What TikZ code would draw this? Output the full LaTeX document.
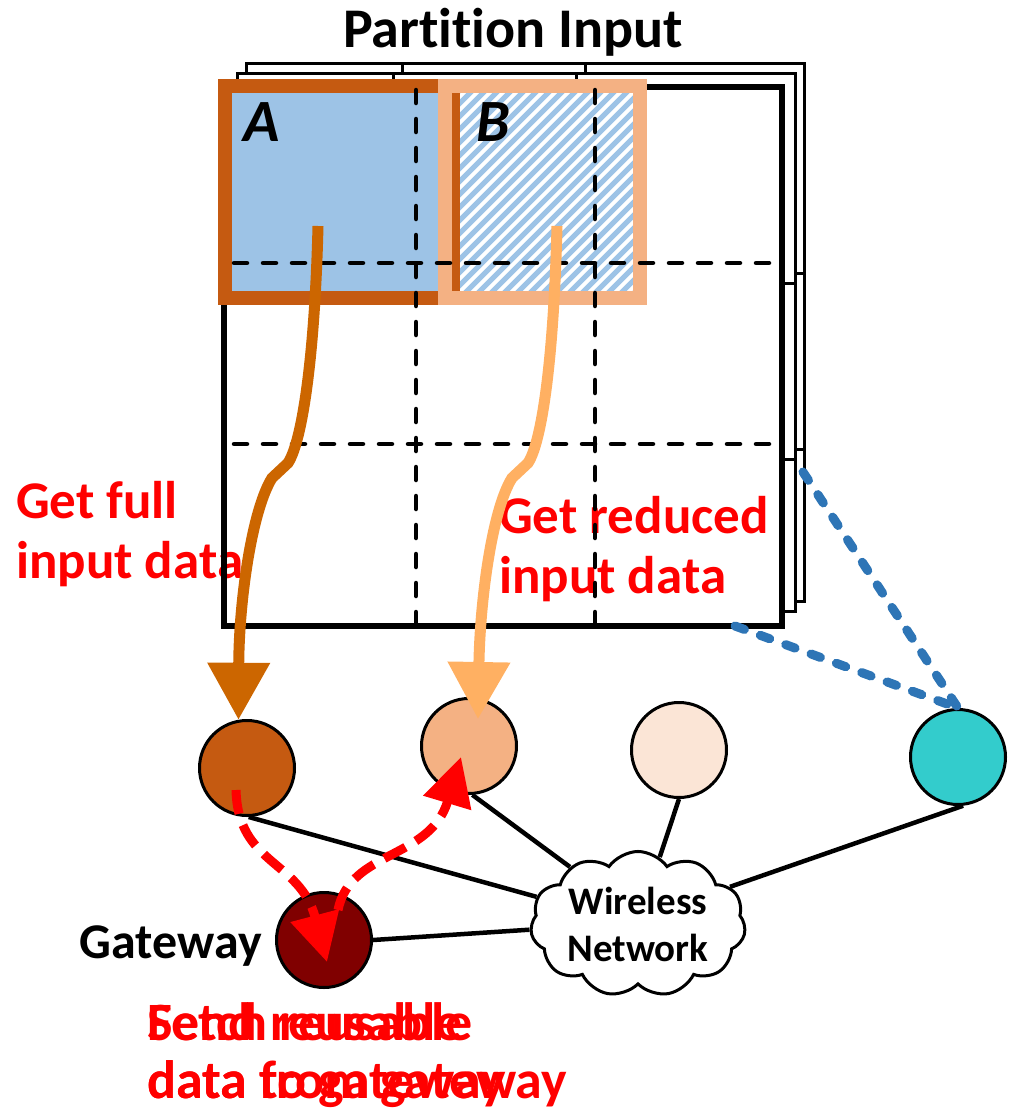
\documentclass[tikz,border=0pt]{standalone}
\usepackage{fontspec}
\setmainfont[Ligatures=NoCommon]{Carlito}
\usepackage{tikz}
\usetikzlibrary{calc,shapes.symbols,arrows.meta}
\usetikzlibrary{positioning}

\definecolor{cellblue}{RGB}{157,195,230}
\definecolor{fullorange}{RGB}{197,90,17}
\definecolor{reducedorange}{RGB}{244,177,131}
\definecolor{paleorange}{RGB}{251,229,214}
\definecolor{devcyan}{RGB}{51,204,204}
\definecolor{gatewayred}{RGB}{128,0,0}
\definecolor{fullarrow}{RGB}{204,102,0}
\definecolor{reducedarrow}{RGB}{255,176,98}
\definecolor{linkblue}{RGB}{46,117,182}

\begin{document}
\begin{tikzpicture}[x=1pt, y=-1pt,
    device/.style={circle, draw=black, line width=3pt, minimum size=95pt, inner sep=0pt},
    sheet/.style={draw=black, fill=white, line width=3pt},
    cutline/.style={draw=black, line width=4.5pt, dash pattern=on 13pt off 16pt, line cap=round},
    fetch/.style={line width=11pt, -{Triangle[length=57pt,width=60pt]}},
    reuse/.style={draw=red, line width=9pt, dash pattern=on 24pt off 12pt, -{Triangle[length=48pt,width=48pt]}},
    link/.style={draw=black, line width=4.5pt},
    radio/.style={draw=linkblue, line width=9pt, line cap=round, dash pattern=on 10pt off 17pt},
    net/.style={cloud, cloud puffs=11, cloud puff arc=110, aspect=1.65, draw=black, fill=white,
        line width=3pt, minimum width=215pt, minimum height=132pt, inner sep=0pt, align=center,
        font=\fontsize{39}{47}\selectfont\bfseries},
    note/.style={inner sep=0pt, align=left, text=red, font=\fontsize{53}{60}\selectfont\bfseries},
    every node/.style={font=\fontsize{50}{60}\selectfont\bfseries}
    ]
    \useasboundingbox (0,0) rectangle (1011,1114);

    % partitions stacked behind the front one
    \foreach \dx/\dy in {22/-24, 13/-14} {
        \begin{scope}[shift={(224+\dx,87+\dy)}]
            \draw[sheet] (0,0) rectangle (558,538);
            \draw[sheet] (156,0) -- (156,538) (339,0) -- (339,538)
                (0,210) -- (558,210) (0,386) -- (558,386);
        \end{scope}
    }
    \fill[white] (224,87) rectangle (782,626);

    \node[inner sep=0pt, anchor=base, font=\fontsize{56}{56}\selectfont\bfseries] (title) at (513,47) {Partition Input};

    % labels of the two transfers (anchored on their last line)
    \node[note, anchor=base west] (fulltext) at (16,578) {Get full\\input data};
    \node[note, anchor=base west] (reducedtext) at (499,593) {Get reduced\\input data};

    \draw[line width=6pt] (224,87) rectangle (782,626);

    % block A (full) and block B (reduced, striped)
    \fill[cellblue] (225,86) rectangle (453,298);
    \begin{scope}
        \clip (452,93) rectangle (633,291);
        \foreach \x in {250,263,...,640}
            \draw[cellblue, line width=5pt] (\x,300) -- (\x+215,85);
    \end{scope}
    \draw[fullorange, line width=14pt] (225,86) rectangle (453,298);
    \draw[reducedorange, line width=14pt] (445,86) rectangle (640,298);

    % cuts of the partition
    \foreach \x in {416,595}
        \draw[cutline] (\x,90) -- (\x,626);
    \foreach \y in {263,444}
        \draw[cutline] (234,\y) -- (782,\y);

    \node[inner sep=0pt, anchor=base west, font=\fontsize{60}{60}\selectfont\bfseries\itshape] (blockA) at (243,141) {A};
    \node[inner sep=0pt, anchor=base west, font=\fontsize{60}{60}\selectfont\bfseries\itshape] (blockB) at (476,141) {B};

    % devices
    \foreach \nm/\px/\py/\col in {dev1/247/768/fullorange, dev2/469/746/reducedorange,
                                 dev3/679/750/paleorange, dev4/958/757/devcyan}
        \node[device, fill=\col] (\nm) at (\px,\py) {};
    \node[device, fill=gatewayred] (gw) at (324,940) {};
    \node[inner sep=0pt, left=13pt of gw, yshift=-6pt] (gwlabel) {Gateway};

    \node[net] (net) at (638,924) {Wireless\\Network};
    \foreach \a/\b in {dev1.-88/net.165, dev2.-86/net.140, dev3.-90/net.72, gw.east/net.183, dev4.-84/net.22}
        \draw[link] (\a) -- (\b);

    % input data going to the devices
    \coordinate (srcA) at (318,226);
    \coordinate (srcB) at (557,226);
    \coordinate (dstB) at ($(dev2.center)+(9,-27)$);
    \draw[fetch, fullarrow] (srcA) .. controls (315,350) and (303,440) .. (288,463)
        -- (272,478) .. controls (252,510) and (239,600) .. (dev1.100);
    \draw[fetch, reducedarrow] (srcB) .. controls (554,350) and (543,440) .. (528,463)
        -- (512,478) .. controls (492,510) and (480,600) .. (dstB);

    % reusable data through the gateway
    \coordinate (sendA) at ($(dev1.center)+(-11,22)$);
    \coordinate (sendB) at ($(gw.center)+(3,22)$);
    \coordinate (pullA) at ($(gw.center)+(14,-30)$);
    \coordinate (pullB) at ($(dev2.center)+(-8,11)$);
    \draw[reuse] (sendA) .. controls (238,865) and (300,860) .. (sendB);
    \draw[reuse] (pullA) .. controls (350,850) and (430,860) .. (pullB);

    \node[note, anchor=base west, font=\fontsize{54}{58}\selectfont\bfseries] (sendtext) at (147,1098) {Send reusable\\data to gateway};
    \node[note, anchor=base west, font=\fontsize{54}{58}\selectfont\bfseries] (fetchtext) at (147,1098) {Fetch reusable\\data from gateway};

    % wireless reach of the far device
    \coordinate (edgeA) at (735,626);
    \coordinate (edgeB) at (803,472);
    \draw[radio] (edgeA) -- (dev4.north);
    \draw[radio] (edgeB) -- (dev4.north);
\end{tikzpicture}
\end{document}
